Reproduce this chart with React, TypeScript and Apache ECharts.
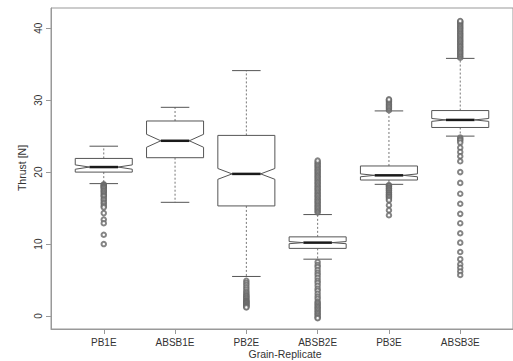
import React, { useEffect, useRef } from "react";
import * as echarts from "echarts";

const categories = ["PB1E", "ABSB1E", "PB2E", "ABSB2E", "PB3E", "ABSB3E"];
const lowerWhisker = [18.4, 15.8, 5.5, 7.9, 18.3, 25.0];
const q1 = [20.0, 22.0, 15.3, 9.4, 18.9, 26.2];
const medians = [20.7, 24.35, 19.75, 10.2, 19.55, 27.25];
const q3 = [21.9, 27.1, 25.1, 11.0, 20.85, 28.55];
const upperWhisker = [23.6, 29.0, 34.1, 14.1, 28.5, 35.8];
const notchLow = [20.4, 23.45, 19.0, 10.05, 19.35, 27.05];
const notchHigh = [21.0, 25.25, 20.5, 10.35, 19.75, 27.45];

const outliersPB1E = [18.3, 18.2, 18.1, 18.0, 17.9, 17.8, 17.6, 17.4, 17.3, 17.1, 16.9, 16.7, 16.6, 16.3, 16.1, 15.8, 15.6, 15.3, 15.1, 14.3, 13.4, 12.9, 11.3, 10.0];
const outliersABSB1E: number[] = [];
const outliersPB2E = [4.9, 4.6, 4.3, 4.0, 3.7, 3.4, 3.2, 3.0, 2.8, 2.7, 2.5, 2.4, 2.2, 2.1, 2.0, 1.9, 1.8, 1.7, 1.6, 1.5, 1.4, 1.3, 1.2];
const outliersABSB2E = [
  14.4, 14.6, 14.8, 15.0, 15.2, 15.4, 15.6, 15.8, 16.0, 16.2, 16.4, 16.6, 16.8, 17.0, 17.2, 17.4, 17.6, 17.8, 18.0,
  18.2, 18.4, 18.6, 18.8, 19.0, 19.2, 19.4, 19.6, 19.8, 20.0, 20.2, 20.4, 20.6, 20.8, 21.0, 21.2, 21.4, 21.6,
  7.5, 7.1, 6.8, 6.4, 6.0, 5.7, 5.3, 4.9, 4.6, 4.2, 3.8, 3.5, 3.1, 2.7, 2.4, 2.0,
  1.8, 1.6, 1.4, 1.2, 1.0, 0.8, 0.6, 0.4, 0.2, 0.0, -0.2, -0.3,
];
const outliersPB3E = [28.6, 28.8, 29.0, 29.2, 29.4, 29.6, 29.8, 30.0, 30.1, 18.2, 18.1, 18.0, 17.8, 17.7, 17.5, 17.4, 17.2, 17.1, 16.9, 16.8, 16.6, 16.5, 16.3, 16.1, 15.4, 14.7, 14.0];
const outliersABSB3E = [
  35.9, 36.1, 36.3, 36.5, 36.7, 36.9, 37.1, 37.3, 37.5, 37.7, 37.9, 38.1, 38.3, 38.5, 38.7, 38.9, 39.1, 39.3, 39.5,
  39.7, 39.9, 40.1, 40.3, 40.5, 40.7, 40.9, 41.0,
  24.8, 24.6, 24.4, 24.1, 23.4, 22.8, 22.2, 21.5, 20.0, 18.5, 17.0, 15.6, 14.2, 12.9, 11.5, 10.2, 8.9, 7.9, 7.2, 6.7, 6.2, 5.7,
];
const outlierGroups = [outliersPB1E, outliersABSB1E, outliersPB2E, outliersABSB2E, outliersPB3E, outliersABSB3E];

const yTicks = [0, 10, 20, 30, 40];
const xTicks = [1, 2, 3, 4, 5, 6];

export default function App() {
  const ref = useRef<HTMLDivElement>(null);
  useEffect(() => {
    if (!ref.current) return;
    const chart = echarts.init(ref.current, undefined, { renderer: "svg" });
    const boxData = categories.map((_, i) => [
      i + 1,
      lowerWhisker[i],
      q1[i],
      medians[i],
      q3[i],
      upperWhisker[i],
      notchLow[i],
      notchHigh[i],
    ]);
    const outlierData: number[][] = [];
    outlierGroups.forEach((g, i) => g.forEach((v) => outlierData.push([i + 1, v])));

    const lineCol = "#555";
    const renderItem = (params: any, api: any) => {
      const x = api.value(0);
      const lw = api.coord([x, api.value(1)]);
      const b1 = api.coord([x, api.value(2)]);
      const md = api.coord([x, api.value(3)]);
      const b3 = api.coord([x, api.value(4)]);
      const uw = api.coord([x, api.value(5)]);
      const nl = api.coord([x, api.value(6)]);
      const nh = api.coord([x, api.value(7)]);
      const hw = api.size([0.4, 0])[0];
      const cx = md[0];
      const capHw = hw / 2;
      return {
        type: "group",
        children: [
          {
            type: "line",
            shape: { x1: cx, y1: b3[1], x2: cx, y2: uw[1] },
            style: { stroke: "#777", lineWidth: 1, lineDash: [2, 2], fill: null },
          },
          {
            type: "line",
            shape: { x1: cx, y1: b1[1], x2: cx, y2: lw[1] },
            style: { stroke: "#777", lineWidth: 1, lineDash: [2, 2], fill: null },
          },
          {
            type: "line",
            shape: { x1: cx - capHw, y1: uw[1], x2: cx + capHw, y2: uw[1] },
            style: { stroke: lineCol, lineWidth: 1 },
          },
          {
            type: "line",
            shape: { x1: cx - capHw, y1: lw[1], x2: cx + capHw, y2: lw[1] },
            style: { stroke: lineCol, lineWidth: 1 },
          },
          {
            type: "polygon",
            shape: {
              points: [
                [cx - hw, b3[1]],
                [cx + hw, b3[1]],
                [cx + hw, nh[1]],
                [cx + hw / 2, md[1]],
                [cx + hw, nl[1]],
                [cx + hw, b1[1]],
                [cx - hw, b1[1]],
                [cx - hw, nl[1]],
                [cx - hw / 2, md[1]],
                [cx - hw, nh[1]],
              ],
            },
            style: { fill: "#fff", stroke: lineCol, lineWidth: 1 },
          },
          {
            type: "line",
            shape: { x1: cx - hw / 2, y1: md[1], x2: cx + hw / 2, y2: md[1] },
            style: { stroke: "#1a1a1a", lineWidth: 2.5 },
          },
        ],
      };
    };

    chart.setOption({
      animation: false,
      backgroundColor: "#fff",
      textStyle: { fontFamily: "Liberation Sans, Arial, sans-serif" },
      grid: { left: 51, top: 8, width: 467, height: 321, show: true, borderColor: "#999", borderWidth: 1, containLabel: false },
      xAxis: {
        type: "value",
        min: 0.26,
        max: 6.74,
        splitLine: { show: false },
        axisLine: { show: true, onZero: false, lineStyle: { color: "#999" } },
        axisTick: { show: true, customValues: xTicks, length: 5, lineStyle: { color: "#999" } },
        axisLabel: {
          customValues: xTicks,
          formatter: (v: number) => categories[Math.round(v) - 1] ?? "",
          fontSize: 10,
          color: "#333",
          margin: 8,
          fontFamily: "Liberation Sans, Arial, sans-serif",
        },
      },
      yAxis: {
        type: "value",
        min: -1.8,
        max: 42.8,
        splitLine: { show: false },
        axisLine: { show: true, onZero: false, lineStyle: { color: "#999" } },
        axisTick: { show: true, customValues: yTicks, length: 5, lineStyle: { color: "#999" } },
        axisLabel: {
          customValues: yTicks,
          rotate: 90,
          fontSize: 10,
          color: "#333",
          margin: 8,
          fontFamily: "Liberation Sans, Arial, sans-serif",
        },
      },
      graphic: [
        {
          type: "text",
          x: 22,
          y: 168,
          rotation: Math.PI / 2,
          style: {
            text: "Thrust [N]",
            fontSize: 10.5,
            fill: "#333",
            align: "center",
            verticalAlign: "middle",
            fontFamily: "Liberation Sans, Arial, sans-serif",
          },
        },
        {
          type: "text",
          x: 285,
          y: 354,
          style: {
            text: "Grain-Replicate",
            fontSize: 10.5,
            fill: "#333",
            align: "center",
            verticalAlign: "middle",
            fontFamily: "Liberation Sans, Arial, sans-serif",
          },
        },
      ],
      series: [
        {
          type: "custom",
          renderItem,
          data: boxData,
          encode: { x: 0, y: [1, 2, 3, 4, 5] },
          clip: false,
          z: 2,
        },
        {
          type: "scatter",
          data: outlierData,
          symbol: "emptyCircle",
          symbolSize: 4.5,
          itemStyle: { color: "#666", borderColor: "#666", borderWidth: 0.8 },
          z: 3,
        },
      ],
    });
    return () => chart.dispose();
  }, []);
  return (
    <div
      ref={ref}
      style={{ position: "absolute", left: 0, top: 0, width: 513, height: 361, background: "#fff" }}
    />
  );
}
